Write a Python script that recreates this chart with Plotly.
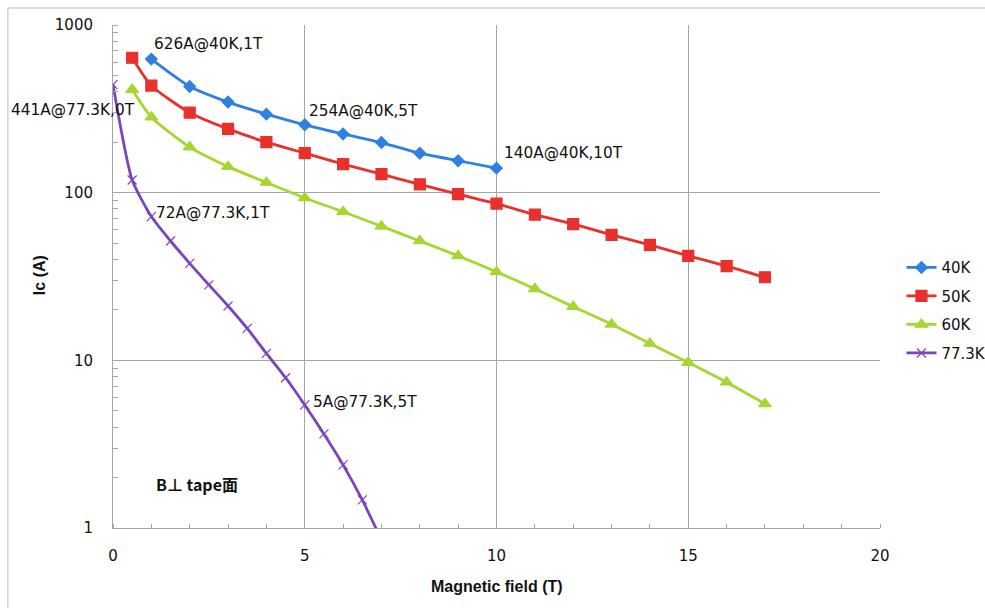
import math
import plotly.graph_objects as go

# ---- data ----
field_40K = [1, 2, 3, 4, 5, 6, 7, 8, 9, 10]
ic_40K = [626, 430, 347, 294, 254, 224, 199, 172, 155, 140]

field_50K = [0.5, 1, 2, 3, 4, 5, 6, 7, 8, 9, 10, 11, 12, 13, 14, 15, 16, 17]
ic_50K = [638, 435, 300, 240, 200, 172, 148, 129, 112, 98, 86, 74, 65, 56, 48.8, 42, 36.5, 31.3]

field_60K = [0.5, 1, 2, 3, 4, 5, 6, 7, 8, 9, 10, 11, 12, 13, 14, 15, 16, 17]
ic_60K = [412, 282, 187, 143, 115, 93, 77, 63, 51.5, 42, 33.7, 26.7, 20.9, 16.4, 12.6, 9.7, 7.4, 5.5]

field_77K = [0, 0.5, 1, 1.5, 2, 2.5, 3, 3.5, 4, 4.5, 5, 5.5, 6, 6.5, 7]
ic_77K = [441, 119, 72, 51.5, 37.9, 28.2, 21.1, 15.5, 11.0, 7.87, 5.42, 3.64, 2.38, 1.47, 0.85]

series_names = ["40K", "50K", "60K", "77.3K"]
y_tickvals = [1, 10, 100, 1000]
y_ticktext = ["1", "10", "100", "1000"]
x_tickvals = [0, 5, 10, 15, 20]

colors = ["#2F80E0", "#E8302C", "#A6D630", "#7A44BC"]
symbols = ["diamond", "square", "triangle-up", "x-thin"]
sizes = [9, 11, 11, 9]

FONT = "DejaVu Sans"

fig = go.Figure()
all_x = [field_40K, field_50K, field_60K, field_77K]
all_y = [ic_40K, ic_50K, ic_60K, ic_77K]
for i, name in enumerate(series_names):
    fig.add_trace(go.Scatter(
        x=all_x[i], y=all_y[i], name=name, mode="lines+markers",
        line=dict(color=colors[i], width=2.8, shape="spline", smoothing=0.6),
        marker=dict(symbol=symbols[i], size=sizes[i], color=colors[i],
                    line=dict(color=colors[i], width=1.2)),
        legendgroup=name,
    ))

grid = "#A6A6A6"
fig.update_xaxes(
    range=[0, 20], tickvals=x_tickvals, showgrid=True, gridcolor=grid, gridwidth=1,
    showline=True, linecolor=grid, linewidth=1, mirror=False, zeroline=False,
    ticks="", tickfont=dict(family=FONT, size=15, color="#111"),
    ticklabelstandoff=14,
    minor=dict(dtick=1, ticks="inside", ticklen=4, tickcolor=grid, showgrid=False),
)
fig.update_yaxes(
    type="log", range=[0, 3], tickvals=y_tickvals, ticktext=y_ticktext,
    showgrid=True, gridcolor=grid, gridwidth=1,
    showline=True, linecolor=grid, linewidth=1, zeroline=False,
    ticks="", tickfont=dict(family=FONT, size=15, color="#111"),
    ticklabelstandoff=16,
    minor=dict(dtick="D1", ticks="inside", ticklen=5, tickcolor=grid, showgrid=False),
)

ann_font = dict(family=FONT, size=15.3, color="#111")
labels = [
    ("626A@40K,1T", field_40K[0], ic_40K[0], "left", 1, 15),
    ("441A@77.3K,0T", field_77K[0], ic_77K[0], "right", 24, -25),
    ("254A@40K,5T", field_40K[4], ic_40K[4], "left", 2, 14),
    ("140A@40K,10T", field_40K[9], ic_40K[9], "left", 5, 15),
    ("72A@77.3K,1T", field_77K[2], ic_77K[2], "left", 3, 4),
    ("5A@77.3K,5T", field_77K[10], ic_77K[10], "left", 6, 3),
]
for text, x, y, xa, xs, ys in labels:
    fig.add_annotation(x=x, y=math.log10(y), xref="x", yref="y", text=text,
                       showarrow=False, xanchor=xa, yanchor="middle",
                       xshift=xs, yshift=ys, font=ann_font)

fig.add_annotation(x=0.054, y=0.088, xref="paper", yref="paper",
                   text="<b>B⊥ tape面</b>", showarrow=False, xanchor="left", yanchor="middle",
                   font=dict(family="Noto Sans CJK SC", size=16, color="#111"))
fig.add_annotation(x=-0.095, y=0.503, xref="paper", yref="paper", text="<b>Ic (A)</b>",
                   textangle=-90, showarrow=False, xanchor="center", yanchor="middle",
                   font=dict(family="Liberation Sans", size=16, color="#111"))
fig.add_annotation(x=0.5, y=-0.117, xref="paper", yref="paper", text="<b>Magnetic field (T)</b>",
                   showarrow=False, xanchor="center", yanchor="middle",
                   font=dict(family="Liberation Sans", size=16, color="#111"))

# outer chart frame (top and left edges visible)
fig.add_shape(type="line", xref="paper", yref="paper", x0=-0.137, x1=1.2, y0=1.0338, y1=1.0338,
              line=dict(color="#BBBBBB", width=1))
fig.add_shape(type="line", xref="paper", yref="paper", x0=-0.137, x1=-0.137, y0=-0.2, y1=1.0338,
              line=dict(color="#BBBBBB", width=1))

fig.update_layout(
    width=985, height=608, autosize=False,
    margin=dict(l=113, r=105, t=25, b=80, autoexpand=False),
    paper_bgcolor="white", plot_bgcolor="white",
    legend=dict(x=1.028, y=0.433, xanchor="left", yanchor="middle",
                font=dict(family=FONT, size=15, color="#111"),
                traceorder="grouped", tracegroupgap=6, itemwidth=30,
                bgcolor="rgba(0,0,0,0)"),
    showlegend=True,
)

fig.write_html("out.html")
